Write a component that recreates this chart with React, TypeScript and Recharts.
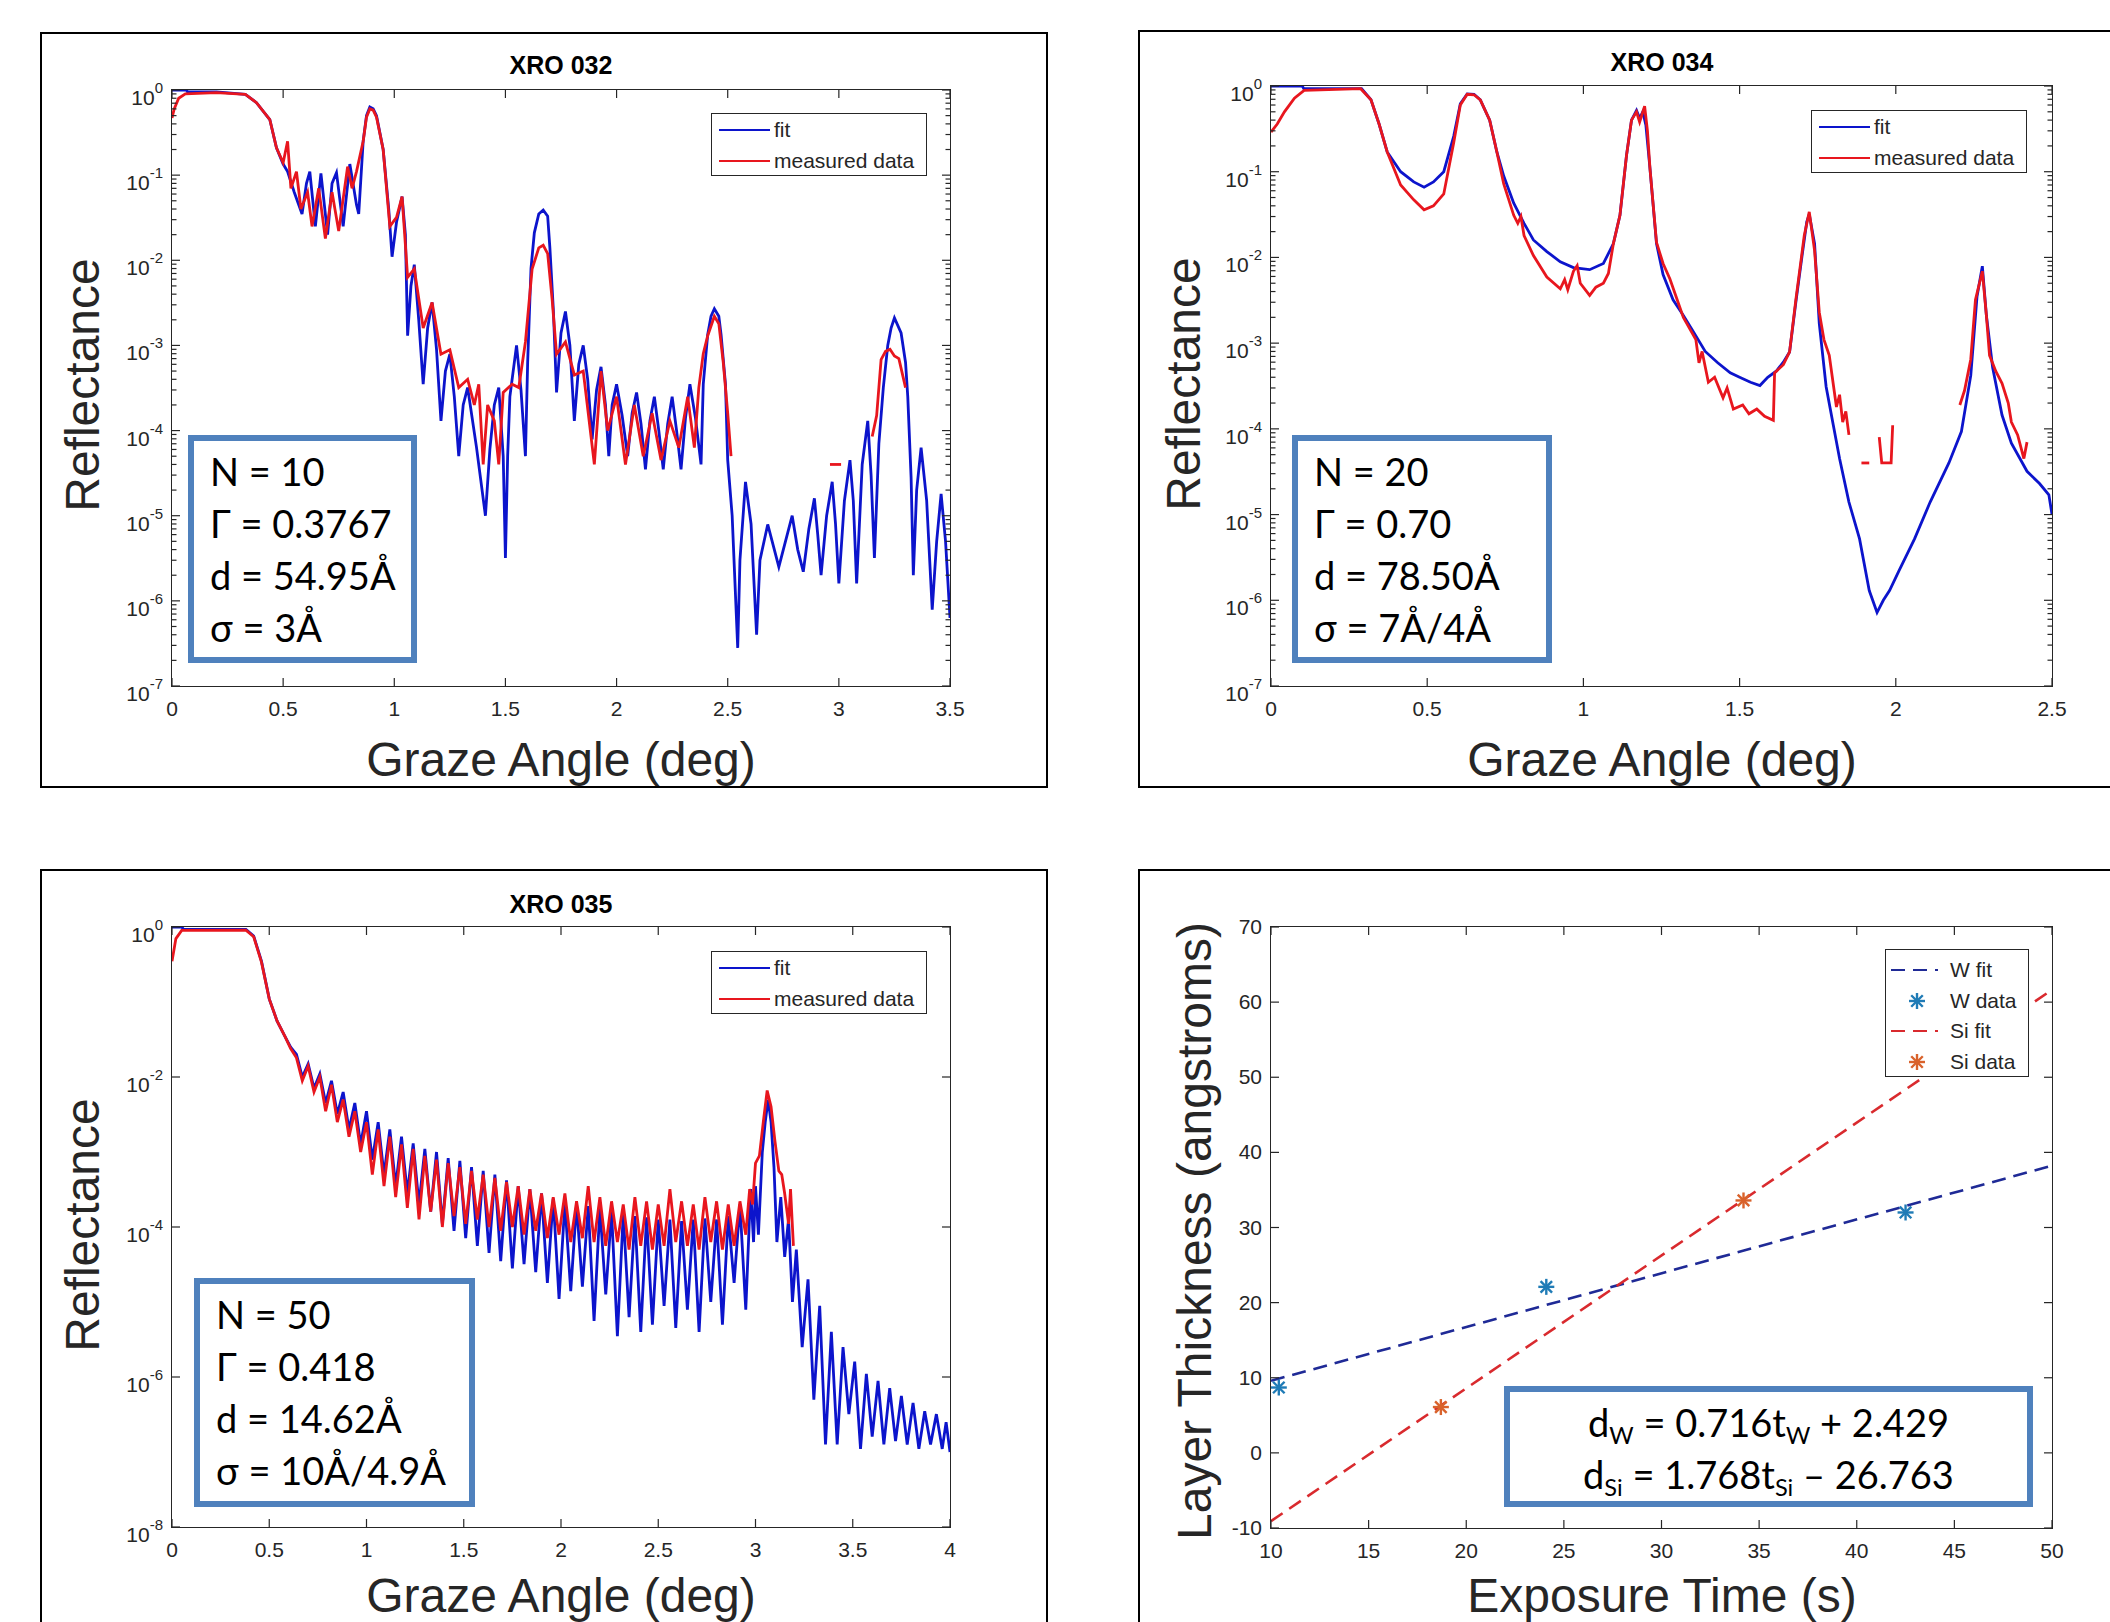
import React from "react";
import { ComposedChart, Line, Scatter, XAxis, YAxis } from "recharts";

type Pt = [number, number];

// ---------- XRO 032 (angle deg, reflectance) ----------
const fit032: Pt[] = [
  [0, 1], [0.065, 1], [0.07, 0.95], [0.2, 0.95], [0.33, 0.89], [0.38, 0.71], [0.44, 0.45], [0.47, 0.21],
  [0.5, 0.135], [0.52, 0.11], [0.55, 0.063], [0.585, 0.035], [0.605, 0.08], [0.62, 0.11], [0.645, 0.025],
  [0.67, 0.105], [0.7, 0.02], [0.72, 0.08], [0.74, 0.107], [0.77, 0.025], [0.8, 0.135], [0.83, 0.045],
  [0.84, 0.035], [0.86, 0.25], [0.875, 0.5], [0.89, 0.63], [0.905, 0.6], [0.92, 0.5], [0.95, 0.2],
  [0.975, 0.04], [0.99, 0.011], [1.01, 0.028], [1.035, 0.056], [1.05, 0.02], [1.06, 1.3e-3], [1.075, 5e-3],
  [1.09, 8.9e-3], [1.11, 2e-3], [1.13, 3.5e-4], [1.15, 1.6e-3], [1.17, 3.2e-3], [1.19, 9e-4], [1.21, 1.3e-4],
  [1.23, 5e-4], [1.25, 7.9e-4], [1.27, 2.5e-4], [1.29, 5e-5], [1.31, 2e-4], [1.33, 3.2e-4], [1.37, 6.3e-5],
  [1.41, 1e-5], [1.43, 6e-5], [1.45, 2e-4], [1.47, 3.2e-4], [1.49, 5e-5], [1.5, 3.2e-6], [1.51, 5e-5],
  [1.52, 2.5e-4], [1.55, 1e-3], [1.57, 3e-4], [1.59, 5e-5], [1.6, 6.3e-4], [1.615, 8e-3], [1.63, 0.021],
  [1.65, 0.035], [1.67, 0.039], [1.69, 0.033], [1.7, 0.014], [1.716, 2.5e-3], [1.73, 2.8e-4], [1.75, 1.4e-3],
  [1.77, 2.5e-3], [1.79, 1e-3], [1.81, 1.3e-4], [1.83, 6e-4], [1.85, 1e-3], [1.87, 4e-4], [1.89, 7.9e-5],
  [1.91, 3e-4], [1.93, 5.6e-4], [1.95, 2e-4], [1.965, 5e-5], [1.98, 2e-4], [2.0, 3.5e-4], [2.025, 1.5e-4],
  [2.05, 5e-5], [2.07, 1.6e-4], [2.09, 2.8e-4], [2.11, 1.2e-4], [2.13, 3.5e-5], [2.15, 1.3e-4], [2.17, 2.5e-4],
  [2.19, 1e-4], [2.21, 3.5e-5], [2.23, 1.2e-4], [2.25, 2.5e-4], [2.27, 1e-4], [2.29, 3.5e-5], [2.31, 1.4e-4],
  [2.33, 3.5e-4], [2.355, 1.4e-4], [2.38, 4e-5], [2.39, 3.5e-4], [2.41, 1.35e-3], [2.425, 2.2e-3], [2.44, 2.7e-3],
  [2.46, 2.2e-3], [2.47, 1.35e-3], [2.49, 3.5e-4], [2.5, 4.5e-5], [2.52, 1e-5], [2.545, 2.8e-7], [2.555, 3e-6],
  [2.58, 2.5e-5], [2.605, 8e-6], [2.63, 4e-7], [2.645, 3e-6], [2.68, 7.9e-6], [2.73, 2.5e-6], [2.79, 1e-5],
  [2.815, 4e-6], [2.84, 2.2e-6], [2.865, 7e-6], [2.89, 1.6e-5], [2.905, 6e-6], [2.92, 2e-6], [2.945, 1e-5],
  [2.97, 2.5e-5], [2.985, 8e-6], [3.0, 1.6e-6], [3.025, 1.5e-5], [3.05, 4.5e-5], [3.065, 1.5e-5], [3.08, 1.6e-6],
  [3.105, 4e-5], [3.13, 1.3e-4], [3.145, 3e-5], [3.16, 3.2e-6], [3.18, 7e-5], [3.2, 3.2e-4], [3.22, 1e-3],
  [3.235, 1.6e-3], [3.25, 2.1e-3], [3.28, 1.4e-3], [3.3, 6.3e-4], [3.31, 2.5e-4], [3.325, 2.8e-5], [3.335, 2e-6],
  [3.35, 2e-5], [3.37, 6.3e-5], [3.395, 1.5e-5], [3.42, 7.9e-7], [3.44, 5e-6], [3.46, 1.8e-5], [3.48, 5e-6],
  [3.5, 6.3e-7],
];
const meas032: Pt[] = [
  [0, 0.47], [0.01, 0.6], [0.03, 0.8], [0.06, 0.9], [0.2, 0.93], [0.33, 0.89], [0.38, 0.71], [0.44, 0.45],
  [0.47, 0.21], [0.5, 0.14], [0.52, 0.25], [0.535, 0.07], [0.56, 0.11], [0.58, 0.04], [0.61, 0.063], [0.63, 0.025],
  [0.66, 0.07], [0.69, 0.018], [0.72, 0.063], [0.75, 0.022], [0.79, 0.126], [0.81, 0.07], [0.83, 0.11],
  [0.86, 0.25], [0.875, 0.48], [0.89, 0.6], [0.905, 0.58], [0.92, 0.48], [0.95, 0.2], [0.98, 0.025],
  [1.01, 0.032], [1.035, 0.056], [1.06, 6.3e-3], [1.09, 7.9e-3], [1.13, 1.6e-3], [1.17, 3.2e-3], [1.21, 7.9e-4],
  [1.25, 8.9e-4], [1.29, 3.2e-4], [1.33, 4e-4], [1.36, 2e-4], [1.38, 3.5e-4], [1.4, 4e-5], [1.42, 2e-4],
  [1.45, 1.3e-4], [1.47, 4e-5], [1.49, 2.8e-4], [1.53, 3.5e-4], [1.56, 3.2e-4], [1.59, 1.1e-3], [1.62, 7.9e-3],
  [1.65, 0.014], [1.67, 0.015], [1.69, 0.012], [1.71, 3.5e-3], [1.73, 7.9e-4], [1.77, 1.1e-3], [1.81, 4.5e-4],
  [1.85, 5e-4], [1.9, 4e-5], [1.93, 5e-4], [1.96, 1e-4], [2.0, 2.5e-4], [2.04, 4e-5], [2.08, 2e-4], [2.12, 5e-5],
  [2.16, 1.6e-4], [2.2, 4.5e-5], [2.24, 1.3e-4], [2.28, 6.3e-5], [2.32, 2.5e-4], [2.35, 6.3e-5], [2.37, 3.2e-4],
  [2.39, 8e-4], [2.41, 1.3e-3], [2.44, 2.2e-3], [2.46, 1.8e-3], [2.48, 6.3e-4], [2.5, 1.6e-4], [2.515, 5e-5],
];
const meas032b: Pt[] = [[2.96, 4e-5], [3.01, 4e-5]];
const meas032c: Pt[] = [
  [3.15, 8.5e-5], [3.17, 1.5e-4], [3.19, 6.8e-4], [3.21, 8.5e-4], [3.23, 9e-4], [3.25, 7.5e-4], [3.27, 7e-4], [3.3, 3.2e-4],
];

// ---------- XRO 034 ----------
const fit034: Pt[] = [
  [0, 1], [0.1, 1], [0.105, 0.93], [0.29, 0.93], [0.32, 0.69], [0.346, 0.36], [0.372, 0.17], [0.415, 0.1],
  [0.457, 0.076], [0.49, 0.066], [0.52, 0.076], [0.553, 0.1], [0.585, 0.26], [0.606, 0.62], [0.628, 0.81],
  [0.65, 0.8], [0.67, 0.69], [0.7, 0.4], [0.723, 0.17], [0.745, 0.089], [0.777, 0.043], [0.81, 0.025],
  [0.84, 0.016], [0.883, 0.0117], [0.926, 0.0089], [0.968, 0.0076], [1.02, 0.0072], [1.064, 0.0085],
  [1.096, 0.0145], [1.117, 0.031], [1.138, 0.155], [1.154, 0.4], [1.17, 0.52], [1.18, 0.42], [1.19, 0.5],
  [1.2, 0.35], [1.213, 0.11], [1.234, 0.0145], [1.255, 0.0063], [1.287, 0.0032], [1.32, 0.0021], [1.35, 0.0014],
  [1.39, 8e-4], [1.43, 5.9e-4], [1.47, 4.5e-4], [1.5, 4e-4], [1.535, 3.5e-4], [1.565, 3.2e-4], [1.59, 4e-4],
  [1.617, 4.7e-4], [1.64, 6e-4], [1.66, 7.9e-4], [1.68, 3e-3], [1.7, 0.0105], [1.715, 0.026], [1.723, 0.032],
  [1.74, 0.0145], [1.755, 1.7e-3], [1.777, 3.1e-4], [1.8, 1.1e-4], [1.82, 4.5e-5], [1.85, 1.4e-5], [1.884, 5.2e-6],
  [1.915, 1.3e-6], [1.94, 7.2e-7], [1.96, 1e-6], [1.98, 1.3e-6], [2.01, 2.2e-6], [2.06, 5.2e-6], [2.11, 1.4e-5],
  [2.17, 4e-5], [2.21, 9.3e-5], [2.24, 4.2e-4], [2.26, 3.5e-3], [2.277, 7.9e-3], [2.29, 2.1e-3], [2.31, 5.2e-4],
  [2.34, 1.45e-4], [2.37, 6.8e-5], [2.42, 3.2e-5], [2.46, 2.3e-5], [2.49, 1.7e-5], [2.5, 1e-5],
];
const meas034: Pt[] = [
  [0, 0.29], [0.02, 0.36], [0.043, 0.5], [0.075, 0.72], [0.106, 0.89], [0.287, 0.93], [0.32, 0.69], [0.346, 0.36],
  [0.372, 0.17], [0.415, 0.07], [0.457, 0.047], [0.49, 0.036], [0.52, 0.04], [0.553, 0.055], [0.585, 0.22],
  [0.606, 0.6], [0.628, 0.8], [0.65, 0.79], [0.67, 0.69], [0.7, 0.4], [0.723, 0.17], [0.745, 0.072], [0.777, 0.031],
  [0.79, 0.025], [0.8, 0.03], [0.81, 0.018], [0.84, 0.0105], [0.883, 5.9e-3], [0.926, 4.3e-3], [0.94, 5.5e-3],
  [0.95, 4.2e-3], [0.968, 6.9e-3], [0.98, 8e-3], [0.99, 5e-3], [1.02, 3.6e-3], [1.04, 4.5e-3], [1.064, 5e-3],
  [1.08, 6.5e-3], [1.096, 0.0145], [1.117, 0.031], [1.138, 0.155], [1.154, 0.4], [1.17, 0.5], [1.18, 0.38],
  [1.196, 0.58], [1.205, 0.3], [1.213, 0.11], [1.234, 0.015], [1.255, 8.5e-3], [1.277, 5.6e-3], [1.32, 2e-3],
  [1.36, 1.1e-3], [1.37, 5.9e-4], [1.38, 8e-4], [1.4, 3.5e-4], [1.42, 4e-4], [1.447, 2.3e-4], [1.46, 3e-4],
  [1.48, 1.7e-4], [1.51, 1.9e-4], [1.53, 1.5e-4], [1.555, 1.7e-4], [1.58, 1.4e-4], [1.608, 1.26e-4], [1.612, 4.5e-4],
  [1.64, 5.6e-4], [1.66, 7.9e-4], [1.68, 3.2e-3], [1.707, 0.018], [1.723, 0.034], [1.74, 0.012], [1.755, 2.3e-3],
  [1.77, 1.1e-3], [1.787, 7.2e-4], [1.81, 1.8e-4], [1.82, 2.5e-4], [1.83, 1.2e-4], [1.84, 1.6e-4], [1.85, 8.5e-5],
];
const meas034b: Pt[] = [[1.89, 4e-5], [1.915, 4e-5]];
const meas034c: Pt[] = [[1.947, 8e-5], [1.955, 4e-5], [1.985, 4e-5], [1.99, 1.1e-4]];
const meas034d: Pt[] = [
  [2.205, 1.9e-4], [2.22, 2.8e-4], [2.24, 6.5e-4], [2.255, 3.2e-3], [2.277, 6.9e-3], [2.29, 2.1e-3], [2.3, 7.2e-4],
  [2.32, 4.7e-4], [2.34, 3.4e-4], [2.36, 2e-4], [2.37, 1.2e-4], [2.39, 8.5e-5], [2.41, 4.5e-5], [2.42, 7e-5],
];

// ---------- XRO 035 ----------
const fit035: Pt[] = [
  [0, 1], [0.05, 1], [0.06, 0.93], [0.38, 0.93], [0.42, 0.76], [0.46, 0.35], [0.5, 0.11], [0.54, 0.056],
  [0.58, 0.035], [0.61, 0.025], [0.64, 0.02], [0.67, 0.01], [0.7, 0.015], [0.73, 7.1e-3], [0.76, 0.011],
  [0.79, 4.5e-3], [0.82, 8.9e-3], [0.85, 3.2e-3], [0.88, 6.3e-3], [0.91, 2e-3], [0.94, 4.5e-3], [0.97, 1.26e-3],
  [1.0, 3.5e-3], [1.03, 7.9e-4], [1.06, 2.5e-3], [1.09, 5e-4], [1.12, 2e-3], [1.15, 3.5e-4], [1.18, 1.6e-3],
  [1.21, 2.8e-4], [1.24, 1.3e-3], [1.27, 2e-4], [1.3, 1.1e-3], [1.33, 1.6e-4], [1.36, 1e-3], [1.39, 1.1e-4],
  [1.42, 8.3e-4], [1.45, 8.9e-5], [1.48, 7.6e-4], [1.51, 7.1e-5], [1.54, 6.3e-4], [1.57, 5.6e-5], [1.6, 5.6e-4],
  [1.63, 4.5e-5], [1.66, 5e-4], [1.69, 3.5e-5], [1.72, 4.2e-4], [1.75, 2.8e-5], [1.78, 3.5e-4], [1.81, 3.2e-5],
  [1.84, 3.2e-4], [1.87, 2.5e-5], [1.9, 2.8e-4], [1.93, 1.8e-5], [1.96, 2.4e-4], [1.99, 1.1e-5], [2.02, 2.1e-4],
  [2.05, 1.4e-5], [2.08, 2e-4], [2.11, 1.6e-5], [2.14, 1.9e-4], [2.17, 5.6e-6], [2.2, 1.8e-4], [2.23, 1.26e-5],
  [2.26, 1.6e-4], [2.29, 3.5e-6], [2.32, 1.5e-4], [2.35, 6.3e-6], [2.38, 1.4e-4], [2.41, 4e-6], [2.44, 1.35e-4],
  [2.47, 5e-6], [2.5, 1.26e-4], [2.53, 8.9e-6], [2.56, 1.26e-4], [2.59, 4.5e-6], [2.62, 1.2e-4], [2.65, 7.9e-6],
  [2.68, 1.26e-4], [2.71, 4e-6], [2.74, 1.3e-4], [2.77, 1e-5], [2.8, 1.26e-4], [2.83, 5e-6], [2.86, 1.4e-4],
  [2.89, 1.8e-5], [2.92, 2e-4], [2.95, 7.9e-6], [2.975, 3.2e-4], [2.99, 6.3e-5], [3.0, 3.5e-4], [3.015, 7.9e-5],
  [3.035, 1e-3], [3.05, 2.5e-3], [3.065, 5e-3], [3.08, 2.5e-3], [3.095, 6.3e-4], [3.11, 6.3e-5], [3.13, 2.5e-4],
  [3.15, 4e-5], [3.17, 1.26e-4], [3.19, 1e-5], [3.21, 5e-5], [3.24, 2.5e-6], [3.27, 2e-5], [3.3, 5e-7],
  [3.33, 8.9e-6], [3.36, 1.26e-7], [3.39, 4e-6], [3.42, 1.26e-7], [3.45, 2.5e-6], [3.48, 3.2e-7], [3.51, 1.6e-6],
  [3.54, 1.1e-7], [3.57, 1.1e-6], [3.6, 1.6e-7], [3.63, 8.9e-7], [3.66, 1.26e-7], [3.69, 7.1e-7], [3.72, 1.4e-7],
  [3.75, 5.6e-7], [3.78, 1.26e-7], [3.81, 4.5e-7], [3.84, 1.1e-7], [3.87, 3.5e-7], [3.9, 1.26e-7], [3.93, 3.2e-7],
  [3.96, 1.1e-7], [3.98, 2.5e-7], [4.0, 1e-7],
];
const meas035: Pt[] = [
  [0, 0.35], [0.02, 0.7], [0.05, 0.9], [0.38, 0.91], [0.42, 0.74], [0.46, 0.34], [0.5, 0.11], [0.54, 0.056],
  [0.58, 0.035], [0.61, 0.024], [0.64, 0.018], [0.67, 8.9e-3], [0.7, 0.014], [0.73, 6.3e-3], [0.76, 0.01],
  [0.79, 3.5e-3], [0.82, 7.9e-3], [0.85, 2.5e-3], [0.88, 5e-3], [0.91, 1.6e-3], [0.94, 3.5e-3], [0.97, 1e-3],
  [1.0, 2.5e-3], [1.03, 5e-4], [1.06, 2e-3], [1.09, 3.5e-4], [1.12, 1.6e-3], [1.15, 2.5e-4], [1.18, 1.26e-3],
  [1.21, 1.8e-4], [1.24, 1.1e-3], [1.27, 1.26e-4], [1.3, 8.9e-4], [1.33, 1.6e-4], [1.36, 7.9e-4], [1.39, 1e-4],
  [1.42, 7.1e-4], [1.45, 1.4e-4], [1.48, 6.3e-4], [1.51, 1.1e-4], [1.54, 5.6e-4], [1.57, 1.26e-4], [1.6, 5e-4],
  [1.63, 1e-4], [1.66, 4.5e-4], [1.69, 8.9e-5], [1.72, 4e-4], [1.75, 1e-4], [1.78, 3.5e-4], [1.81, 7.9e-5],
  [1.84, 3.2e-4], [1.87, 8.9e-5], [1.9, 2.8e-4], [1.93, 7.1e-5], [1.96, 2.5e-4], [1.99, 7.9e-5], [2.02, 2.8e-4],
  [2.05, 6.3e-5], [2.08, 2.2e-4], [2.11, 7.1e-5], [2.14, 3.5e-4], [2.17, 6.3e-5], [2.2, 2.5e-4], [2.23, 5.6e-5],
  [2.26, 2.2e-4], [2.29, 6.3e-5], [2.32, 2e-4], [2.35, 5e-5], [2.38, 2.5e-4], [2.41, 5.6e-5], [2.44, 2.2e-4],
  [2.47, 5e-5], [2.5, 2e-4], [2.53, 5.6e-5], [2.56, 3.2e-4], [2.59, 6.3e-5], [2.62, 2.2e-4], [2.65, 5.6e-5],
  [2.68, 2e-4], [2.71, 5e-5], [2.74, 2.5e-4], [2.77, 6.3e-5], [2.8, 2.2e-4], [2.83, 5e-5], [2.86, 2e-4],
  [2.89, 5.6e-5], [2.92, 2.2e-4], [2.95, 7.9e-5], [2.97, 3.2e-4], [2.985, 2e-4], [3.0, 7.1e-4], [3.02, 8.9e-4],
  [3.04, 2.5e-3], [3.06, 6.6e-3], [3.08, 4e-3], [3.1, 1.4e-3], [3.12, 5.6e-4], [3.135, 5e-4], [3.15, 2.8e-4],
  [3.17, 1.1e-4], [3.18, 3.2e-4], [3.195, 5.6e-5],
];

// ---------- layer thickness vs exposure time ----------
const fitTimes = [10, 50];
const wFitThickness = [9.59, 38.23];
const siFitThickness = [-9.08, 61.64];
const wTimes = [10.4, 24.1, 42.5];
const wThickness = [8.7, 22.1, 32.0];
const siTimes = [18.7, 34.2];
const siThickness = [6.1, 33.6];

// axis ticks
const angleTicks35 = [0, 0.5, 1, 1.5, 2, 2.5, 3, 3.5];
const angleTicks25 = [0, 0.5, 1, 1.5, 2, 2.5];
const angleTicks40 = [0, 0.5, 1, 1.5, 2, 2.5, 3, 3.5, 4];
const reflDecades7 = [1e-7, 1e-6, 1e-5, 1e-4, 1e-3, 1e-2, 1e-1, 1];
const reflDecades8 = [1e-8, 1e-6, 1e-4, 1e-2, 1];
const timeTicks = [10, 15, 20, 25, 30, 35, 40, 45, 50];
const thickTicks = [-10, 0, 10, 20, 30, 40, 50, 60, 70];

const FIT_BLUE = "#0c14cc";
const MEAS_RED = "#e8161e";
const WFIT = "#1f2a96";
const SIFIT = "#d92a2e";
const WDATA = "#1f7bb6";
const SIDATA = "#d9622b";
const AXIS = "#262626";
const TXT = "#262626";
const BOX_BLUE = "#4f81bd";
const SANS = '"Liberation Sans", Arial, Helvetica, sans-serif';
const CALI = 'Lato, "Open Sans", sans-serif';
const PAD = 90;

const rows = (pts: Pt[]) => pts.map(([x, y]) => ({ x, y }));
const zipRows = (xs: number[], ys: number[]) => xs.map((x, i) => ({ x, y: ys[i] }));
const withMinors = (decades: number[]) => {
  const out = [...decades];
  decades.slice(0, -1).forEach((d) => {
    for (let m = 2; m <= 9; m++) out.push(d * m);
  });
  return out;
};

interface Box { x: number; y: number; w: number; h: number }

function Plot(props: {
  box: Box; xDomain: [number, number]; xTicks: number[]; yDomain: [number, number];
  yTicks: number[]; yMajor: number[]; logY?: boolean; children: React.ReactNode;
}) {
  const { box, xDomain, xTicks, yDomain, yTicks, yMajor, logY, children } = props;
  const { w, h } = box;
  const majors = new Set(yMajor);
  const yTick = (p: any) => {
    const v = p.payload.value;
    const ty = p.y;
    const major = majors.has(v);
    const len = major ? 8 : 4.5;
    return (
      <g>
        <line x1={PAD} x2={PAD + len} y1={ty} y2={ty} stroke={AXIS} strokeWidth={1.2} />
        <line x1={PAD + w} x2={PAD + w - len} y1={ty} y2={ty} stroke={AXIS} strokeWidth={1.2} />
        {major && logY && (
          <text x={PAD - 9} y={ty + 15} textAnchor="end" fontSize={21} fill={TXT} fontFamily={SANS}>
            <tspan>10</tspan>
            <tspan dy={-12} fontSize={15}>{Math.round(Math.log10(v))}</tspan>
          </text>
        )}
        {major && !logY && (
          <text x={PAD - 9} y={ty + 7} textAnchor="end" fontSize={21} fill={TXT} fontFamily={SANS}>{v}</text>
        )}
      </g>
    );
  };
  const xTick = (p: any) => {
    const tx = p.x;
    return (
      <g>
        <line x1={tx} x2={tx} y1={PAD + h} y2={PAD + h - 8} stroke={AXIS} strokeWidth={1.2} />
        <line x1={tx} x2={tx} y1={PAD} y2={PAD + 8} stroke={AXIS} strokeWidth={1.2} />
        <text x={tx} y={PAD + h + 30} textAnchor="middle" fontSize={21} fill={TXT} fontFamily={SANS}>
          {p.payload.value}
        </text>
      </g>
    );
  };
  return (
    <>
      <div style={{ position: "absolute", left: box.x - PAD, top: box.y - PAD }}>
        <ComposedChart width={w + 2 * PAD} height={h + 2 * PAD} margin={{ top: PAD, right: PAD, bottom: 0, left: 0 }}>
          <XAxis dataKey="x" type="number" domain={xDomain} ticks={xTicks} interval={0} allowDataOverflow
            axisLine={false} tickLine={false} tickSize={0} tickMargin={0} height={PAD} tick={xTick} />
          <YAxis dataKey="y" type="number" scale={logY ? "log" : "linear"} domain={yDomain} ticks={yTicks}
            interval={0} allowDataOverflow axisLine={false} tickLine={false} tickSize={0} tickMargin={0}
            width={PAD} tick={yTick} />
          {children}
        </ComposedChart>
      </div>
      <div style={{
        position: "absolute", left: box.x - 1, top: box.y - 1, width: w + 2, height: h + 2,
        border: `1.3px solid ${AXIS}`, boxSizing: "border-box", pointerEvents: "none",
      }} />
    </>
  );
}

const seriesLine = (pts: Pt[], color: string, key: string) => (
  <Line key={key} data={rows(pts)} dataKey="y" stroke={color} strokeWidth={2.8} dot={false}
    activeDot={false} type="linear" isAnimationActive={false} />
);

const Asterisk = (color: string) => (p: any) => {
  const { cx, cy } = p;
  const r = 8;
  const d = r * 0.72;
  return (
    <g stroke={color} strokeWidth={2.4}>
      <line x1={cx - r} x2={cx + r} y1={cy} y2={cy} />
      <line x1={cx} x2={cx} y1={cy - r} y2={cy + r} />
      <line x1={cx - d} x2={cx + d} y1={cy - d} y2={cy + d} />
      <line x1={cx - d} x2={cx + d} y1={cy + d} y2={cy - d} />
    </g>
  );
};

function Text({ x, y, size, bold, rotate, children }: any) {
  return (
    <div style={{
      position: "absolute", left: x, top: y, transform: `translate(-50%, -50%)${rotate ? " rotate(-90deg)" : ""}`,
      whiteSpace: "nowrap", fontFamily: SANS, fontSize: size, fontWeight: bold ? 700 : 400,
      color: bold ? "#000" : TXT, lineHeight: 1,
    }}>{children}</div>
  );
}

function FitLegend({ x, y }: { x: number; y: number }) {
  const row = (label: string, color: string, top: number) => (
    <div style={{ position: "absolute", left: 0, top: top - 14, height: 28, width: "100%" }}>
      <svg width={60} height={28} style={{ position: "absolute", left: 0, top: 0 }}>
        <line x1={7} x2={58} y1={14} y2={14} stroke={color} strokeWidth={2} />
      </svg>
      <span style={{ position: "absolute", left: 62, top: 3, fontSize: 21, lineHeight: "22px" }}>{label}</span>
    </div>
  );
  return (
    <div style={{
      position: "absolute", left: x, top: y, width: 216, height: 63, border: `1.3px solid ${AXIS}`,
      boxSizing: "border-box", background: "#fff", fontFamily: SANS, color: TXT,
    }}>
      {row("fit", FIT_BLUE, 16)}
      {row("measured data", MEAS_RED, 47)}
    </div>
  );
}

function ParamBox({ x, y, w, h, lines }: { x: number; y: number; w: number; h: number; lines: string[] }) {
  return (
    <div style={{
      position: "absolute", left: x, top: y, width: w, height: h, border: `6px solid ${BOX_BLUE}`,
      boxSizing: "border-box", background: "#fff", fontFamily: CALI, fontSize: 38, color: "#000",
      paddingLeft: 16, paddingTop: 4, lineHeight: "52px",
    }}>
      {lines.map((l) => <div key={l}>{l}</div>)}
    </div>
  );
}

function Frame({ x, y, w, h }: Box) {
  return <div style={{ position: "absolute", left: x, top: y, width: w, height: h, border: "2px solid #000", boxSizing: "border-box" }} />;
}

const sub = { fontSize: "0.62em", verticalAlign: "-0.3em", lineHeight: 0 } as const;

export default function App() {
  const refl7 = withMinors(reflDecades7);
  return (
    <div style={{ position: "absolute", left: 0, top: 0, width: 2110, height: 1622, overflow: "hidden", background: "#fff" }}>
      <Frame x={40} y={32} w={1008} h={756} />
      <Frame x={1138} y={30} w={1000} h={758} />
      <Frame x={40} y={869} w={1008} h={800} />
      <Frame x={1138} y={869} w={1000} h={800} />

      {/* XRO 032 */}
      <Plot box={{ x: 172, y: 90, w: 778, h: 596 }} xDomain={[0, 3.5]} xTicks={angleTicks35}
        yDomain={[1e-7, 1]} yTicks={refl7} yMajor={reflDecades7} logY>
        {seriesLine(fit032, FIT_BLUE, "f")}
        {seriesLine(meas032, MEAS_RED, "m1")}
        {seriesLine(meas032b, MEAS_RED, "m2")}
        {seriesLine(meas032c, MEAS_RED, "m3")}
      </Plot>
      <Text x={561} y={65} size={25} bold>XRO 032</Text>
      <Text x={83} y={385} size={48} rotate>Reflectance</Text>
      <Text x={561} y={760} size={48}>Graze Angle (deg)</Text>
      <FitLegend x={711} y={113} />
      <ParamBox x={188} y={435} w={229} h={228} lines={["N = 10", "Γ = 0.3767", "d = 54.95Å", "σ = 3Å"]} />

      {/* XRO 034 */}
      <Plot box={{ x: 1271, y: 86, w: 781, h: 600 }} xDomain={[0, 2.5]} xTicks={angleTicks25}
        yDomain={[1e-7, 1]} yTicks={refl7} yMajor={reflDecades7} logY>
        {seriesLine(fit034, FIT_BLUE, "f")}
        {seriesLine(meas034, MEAS_RED, "m1")}
        {seriesLine(meas034b, MEAS_RED, "m2")}
        {seriesLine(meas034c, MEAS_RED, "m3")}
        {seriesLine(meas034d, MEAS_RED, "m4")}
      </Plot>
      <Text x={1662} y={62} size={25} bold>XRO 034</Text>
      <Text x={1184} y={384} size={48} rotate>Reflectance</Text>
      <Text x={1662} y={760} size={48}>Graze Angle (deg)</Text>
      <FitLegend x={1811} y={110} />
      <ParamBox x={1292} y={435} w={260} h={228} lines={["N = 20", "Γ = 0.70", "d = 78.50Å", "σ = 7Å/4Å"]} />

      {/* XRO 035 */}
      <Plot box={{ x: 172, y: 927, w: 778, h: 600 }} xDomain={[0, 4]} xTicks={angleTicks40}
        yDomain={[1e-8, 1]} yTicks={reflDecades8} yMajor={reflDecades8} logY>
        {seriesLine(fit035, FIT_BLUE, "f")}
        {seriesLine(meas035, MEAS_RED, "m")}
      </Plot>
      <Text x={561} y={904} size={25} bold>XRO 035</Text>
      <Text x={83} y={1225} size={48} rotate>Reflectance</Text>
      <Text x={561} y={1596} size={48}>Graze Angle (deg)</Text>
      <FitLegend x={711} y={951} />
      <ParamBox x={194} y={1278} w={281} h={229} lines={["N = 50", "Γ = 0.418", "d = 14.62Å", "σ = 10Å/4.9Å"]} />

      {/* thickness vs time */}
      <Plot box={{ x: 1271, y: 927, w: 781, h: 601 }} xDomain={[10, 50]} xTicks={timeTicks}
        yDomain={[-10, 70]} yTicks={thickTicks} yMajor={thickTicks}>
        <Line data={zipRows(fitTimes, wFitThickness)} dataKey="y" stroke={WFIT} strokeWidth={2.6}
          strokeDasharray="14 8" dot={false} activeDot={false} type="linear" isAnimationActive={false} />
        <Scatter data={zipRows(wTimes, wThickness)} dataKey="y" fill={WDATA} shape={Asterisk(WDATA)} isAnimationActive={false} />
        <Line data={zipRows(fitTimes, siFitThickness)} dataKey="y" stroke={SIFIT} strokeWidth={2.6}
          strokeDasharray="14 8" dot={false} activeDot={false} type="linear" isAnimationActive={false} />
        <Scatter data={zipRows(siTimes, siThickness)} dataKey="y" fill={SIDATA} shape={Asterisk(SIDATA)} isAnimationActive={false} />
      </Plot>
      <Text x={1195} y={1231} size={48} rotate>Layer Thickness (angstroms)</Text>
      <Text x={1662} y={1596} size={48}>Exposure Time (s)</Text>
      <div style={{
        position: "absolute", left: 1885, top: 949, width: 144, height: 128, border: `1.3px solid ${AXIS}`,
        boxSizing: "border-box", background: "#fff", fontFamily: SANS, fontSize: 21, color: TXT,
      }}>
        {[
          { label: "W fit", color: WFIT, kind: "line" },
          { label: "W data", color: WDATA, kind: "star" },
          { label: "Si fit", color: SIFIT, kind: "line" },
          { label: "Si data", color: SIDATA, kind: "star" },
        ].map((e, i) => (
          <div key={e.label} style={{ position: "absolute", left: 0, top: 6 + i * 30.5, height: 28, width: "100%" }}>
            <svg width={60} height={28} style={{ position: "absolute", left: 0, top: 0 }}>
              {e.kind === "line"
                ? <line x1={5} x2={52} y1={14} y2={14} stroke={e.color} strokeWidth={2} strokeDasharray="14 8" />
                : Asterisk(e.color)({ cx: 31, cy: 14 })}
            </svg>
            <span style={{ position: "absolute", left: 64, top: 3, lineHeight: "22px" }}>{e.label}</span>
          </div>
        ))}
      </div>
      <div style={{
        position: "absolute", left: 1504, top: 1386, width: 529, height: 121, border: `6px solid ${BOX_BLUE}`,
        boxSizing: "border-box", background: "#fff", fontFamily: CALI, fontSize: 38, color: "#000",
        textAlign: "center", lineHeight: "52px", paddingTop: 4,
      }}>
        <div>d<span style={sub}>W</span> = 0.716t<span style={sub}>W</span> + 2.429</div>
        <div>d<span style={sub}>Si</span> = 1.768t<span style={sub}>Si</span> – 26.763</div>
      </div>
    </div>
  );
}
